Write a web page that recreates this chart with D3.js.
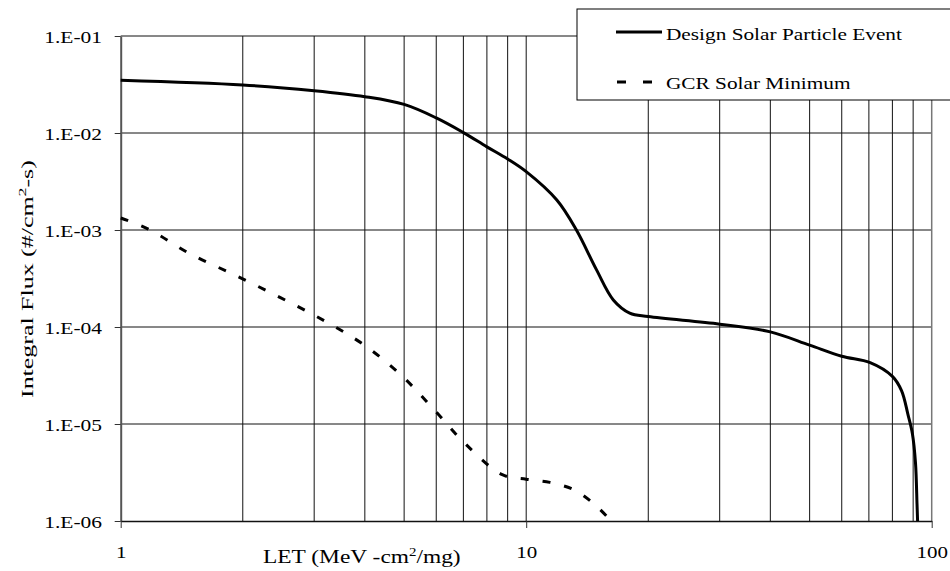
<!DOCTYPE html>
<html>
<head>
<meta charset="utf-8">
<script src="https://cdn.jsdelivr.net/npm/d3@7"></script>
<style>
  body { margin: 0; background: #fff; }
  svg { display: block; }
  text { font-family: "Liberation Serif", "Times New Roman", serif; fill: #000; }
</style>
</head>
<body>
<svg id="chart" width="950" height="571"></svg>
<script>
// Design Solar Particle Event (solid)
const designLET = [1, 2, 3, 4, 5, 6, 7, 8, 9, 10, 11.9, 13.3, 14.9, 16.4, 18, 20, 30, 40, 50, 60, 70.5, 80, 84.3, 87.4, 89.6, 91.2, 92.0, 92.3]
const designFlux = [3.5e-2, 3.13e-2, 2.73e-2, 2.37e-2, 1.97e-2, 1.43e-2, 1.01e-2, 7.2e-3, 5.4e-3, 4.0e-3, 2.04e-3, 1.0e-3, 3.9e-4, 1.9e-4, 1.39e-4, 1.28e-4, 1.07e-4, 8.9e-5, 6.5e-5, 5.0e-5, 4.3e-5, 3.1e-5, 2.2e-5, 1.25e-5, 8e-6, 4e-6, 1.5e-6, 1.0e-6]

// GCR Solar Minimum (dashed)
const gcrLET = [1, 1.17, 1.48, 1.91, 2.47, 3.19, 4.01, 4.95, 5.94, 7.09, 8.73, 10, 11.44, 13.1, 14.7, 16.2]
const gcrFlux = [1.33e-3, 1.02e-3, 5.7e-4, 3.44e-4, 2.02e-4, 1.15e-4, 6.4e-5, 3.1e-5, 1.39e-5, 6.2e-6, 3.0e-6, 2.7e-6, 2.5e-6, 2.1e-6, 1.5e-6, 1.0e-6]

const yTicks = [1e-1, 1e-2, 1e-3, 1e-4, 1e-5, 1e-6]
const yTickLabels = ["1.E-01", "1.E-02", "1.E-03", "1.E-04", "1.E-05", "1.E-06"]
const xTicks = [1, 10, 100]
const xTickLabels = ["1", "10", "100"]
const xGrid = [2, 3, 4, 5, 6, 7, 8, 9, 10, 20, 30, 40, 50, 60, 70, 80, 90]
const seriesNames = ["Design Solar Particle Event", "GCR Solar Minimum"]

const svg = d3.select("#chart")
const margin = {top: 36, right: 18.3, bottom: 50, left: 120.7}
const width = 950, height = 571

const x = d3.scaleLog().domain([1, 100]).range([margin.left, width - margin.right])
const y = d3.scaleLog().domain([1e-6, 1e-1]).range([height - margin.bottom, margin.top])

// stretch text horizontally, the reference looks widened
const stretch = (sel, k) => sel.each(function() {
  const len = this.getComputedTextLength()
  d3.select(this).attr("textLength", len * k).attr("lengthAdjust", "spacingAndGlyphs")
})

// grid
svg.append("g").selectAll("line")
  .data(xGrid).enter().append("line")
  .attr("x1", d => x(d)).attr("x2", d => x(d))
  .attr("y1", y(1e-1)).attr("y2", y(1e-6))
  .attr("stroke", "#111").attr("stroke-width", 1)

svg.append("g").selectAll("line")
  .data(yTicks.slice(0, 5)).enter().append("line")
  .attr("x1", x(1)).attr("x2", x(100))
  .attr("y1", d => y(d)).attr("y2", d => y(d))
  .attr("stroke", "#111").attr("stroke-width", 1)

// right border
svg.append("line")
  .attr("x1", x(100)).attr("x2", x(100))
  .attr("y1", y(1e-1)).attr("y2", y(1e-6))
  .attr("stroke", "#777").attr("stroke-width", 1.5)

// axes
const yAxis = svg.append("g")
  .attr("transform", `translate(${margin.left}, 0)`)
  .call(d3.axisLeft(y).tickValues(yTicks).tickFormat((d, i) => yTickLabels[i]).tickSize(6).tickSizeOuter(0).tickPadding(12.7))
yAxis.select(".domain").attr("stroke", "#555").attr("stroke-width", 2)
yAxis.selectAll(".tick line").attr("stroke", "#333")
yAxis.selectAll("text")
  .attr("font-size", 16.5).attr("dy", "0.4em")
  .style("font-family", '"Liberation Serif", serif')
  .call(stretch, 1.3)

const xAxis = svg.append("g")
  .attr("transform", `translate(0, ${height - margin.bottom})`)
  .call(d3.axisBottom(x).tickValues(xTicks).tickFormat((d, i) => xTickLabels[i]).tickSize(7).tickSizeOuter(0).tickPadding(18))
xAxis.select(".domain").attr("stroke", "#111").attr("stroke-width", 1.5)
xAxis.selectAll(".tick line").attr("stroke", "#333")
xAxis.selectAll("text")
  .attr("font-size", 17.5)
  .style("font-family", '"Liberation Serif", serif')
  .call(stretch, 1.2)

// lines
const line = d3.line()
  .x(d => x(d[0]))
  .y(d => y(d[1]))
  .curve(d3.curveCatmullRom.alpha(0.5))

svg.append("path")
  .datum(designLET.map((d, i) => [d, designFlux[i]]))
  .attr("d", line)
  .attr("fill", "none").attr("stroke", "#000").attr("stroke-width", 3)

svg.append("path")
  .datum(gcrLET.map((d, i) => [d, gcrFlux[i]]))
  .attr("d", line)
  .attr("fill", "none").attr("stroke", "#000").attr("stroke-width", 3)
  .attr("stroke-dasharray", "8,14")

// axis titles
const xTitle = svg.append("text")
  .attr("x", 263).attr("y", 563)
  .attr("font-size", 18)
xTitle.append("tspan").text("LET (MeV -cm")
xTitle.append("tspan").attr("dy", -7).attr("font-size", 11.5).text("2")
xTitle.append("tspan").attr("dy", 7).text("/mg)")
xTitle.call(stretch, 1.3)

const yTitle = svg.append("text")
  .attr("transform", "translate(33, 398) rotate(-90)")
  .attr("font-size", 16)
yTitle.append("tspan").text("Integral Flux (#/cm")
yTitle.append("tspan").attr("dy", -7).attr("font-size", 11).text("2")
yTitle.append("tspan").attr("dy", 7).text("-s)")
yTitle.call(stretch, 1.62)

// legend
const legend = svg.append("g")
legend.append("rect")
  .attr("x", 577).attr("y", 9).attr("width", 400).attr("height", 91)
  .attr("fill", "#fff").attr("stroke", "#000").attr("stroke-width", 1)

legend.append("line")
  .attr("x1", 616).attr("x2", 662).attr("y1", 32).attr("y2", 32)
  .attr("stroke", "#000").attr("stroke-width", 3)
legend.append("line")
  .attr("x1", 617).attr("x2", 652).attr("y1", 82).attr("y2", 82)
  .attr("stroke", "#000").attr("stroke-width", 3).attr("stroke-dasharray", "9,17")

legend.selectAll("text.lab")
  .data(seriesNames).enter().append("text")
  .attr("class", "lab")
  .attr("x", 666).attr("y", (d, i) => i === 0 ? 40 : 89)
  .attr("font-size", 17.6)
  .text(d => d)
  .call(stretch, 1.21)
</script>
</body>
</html>
